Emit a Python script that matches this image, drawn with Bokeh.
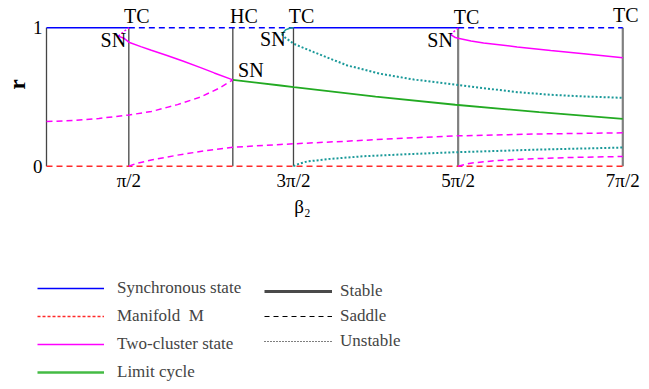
import numpy as np
from bokeh.plotting import figure
from bokeh.layouts import column
from bokeh.models import (ColumnDataSource, FixedTicker, Legend, LegendItem, Range1d)
from bokeh.core.properties import value
from bokeh.embed import file_html
from bokeh.resources import INLINE

PI = np.pi
NAN = float("nan")

# ---------------- data ----------------
beta_HC = 3.555
x_ticks = [PI / 2, 3 * PI / 2, 5 * PI / 2, 7 * PI / 2]
x_tick_labels = ["π/2", "3π/2", "5π/2", "7π/2"]
y_ticks = [0, 1]
y_tick_labels = ["0", "1"]

# bifurcation lines
bif_dark_beta = [0, PI / 2, beta_HC, 3 * PI / 2]
bif_light_beta = [5 * PI / 2, 7 * PI / 2]

# synchronous state r = 1
sync_stable_beta = [[0, PI / 2], [3 * PI / 2, 5 * PI / 2]]
sync_stable_r = [[1, 1], [1, 1]]
sync_saddle_beta = [[PI / 2, 3 * PI / 2], [5 * PI / 2, 7 * PI / 2]]
sync_saddle_r = [[1, 1], [1, 1]]

# manifold M, r = 0
manifold_beta = [0, 7 * PI / 2]
manifold_r = [0, 0]

# two-cluster state
twoc_stable_beta = [[1.37, 1.475, PI / 2, 1.8, 2.0, 2.3, 2.6, 2.94, 3.2, beta_HC],
                    [7.71, 7.80, 5 * PI / 2, 8.1, 8.34, 8.98, 9.62, 10.25, 7 * PI / 2]]
twoc_stable_r = [[0.94, 0.925, 0.896, 0.864, 0.838, 0.800, 0.760, 0.712, 0.674, 0.624],
                 [0.95, 0.93, 0.925, 0.905, 0.890, 0.862, 0.836, 0.812, 0.783]]
twoc_saddle_beta = [[0, 0.5, 1.0, PI / 2, 2.0, 2.3, 2.5, 2.94, 3.3, beta_HC],
                    [PI / 2, 1.7, 2.0, 2.5, 3.0, beta_HC, 4.465, 4.72, 5.74, 6.69, 7.80, 9.4, 7 * PI / 2],
                    [5 * PI / 2, 8.09, 8.5, 9.04, 10.0, 7 * PI / 2]]
twoc_saddle_r = [[0.323, 0.330, 0.345, 0.370, 0.395, 0.425, 0.445, 0.50, 0.565, 0.624],
                 [0, 0.018, 0.045, 0.08, 0.11, 0.137, 0.157, 0.162, 0.181, 0.200, 0.219, 0.233, 0.241],
                 [0, 0.022, 0.038, 0.051, 0.063, 0.070]]
twoc_unstable_beta = [[1.37, 1.47, PI / 2], [7.71, 7.78, 5 * PI / 2]]
twoc_unstable_r = [[0.94, 0.972, 1.0], [0.95, 0.975, 1.0]]

# limit cycle
lc_beta = [beta_HC, 4.465, 4.72, 6.28, 7.80, 9.4, 7 * PI / 2]
lc_r = [0.624, 0.583, 0.571, 0.503, 0.444, 0.39, 0.342]

# other branches (teal)
teal_solid_beta = [4.49, 4.56, 4.64, 3 * PI / 2]
teal_solid_r = [0.955, 0.985, 0.997, 1.0]
teal_dot_beta = [[4.49, 4.55, 4.72, 5.10, 5.74, 6.37, 7.01, 7.80, 8.34, 8.98, 9.62, 10.25, 7 * PI / 2],
                 [3 * PI / 2, 4.8, 4.97, 5.42, 6.05, 7.01, 7.80, 9.4, 7 * PI / 2]]
teal_dot_r = [[0.955, 0.93, 0.884, 0.824, 0.728, 0.668, 0.626, 0.590, 0.564, 0.535, 0.516, 0.504, 0.494],
              [0, 0.015, 0.034, 0.053, 0.072, 0.089, 0.101, 0.12, 0.135]]

# bifurcation point labels
bif_text = ["TC", "TC", "TC", "TC", "HC", "SN", "SN", "SN", "SN"]
bif_beta = [PI / 2, 3 * PI / 2, 5 * PI / 2, 7 * PI / 2, beta_HC, 1.37, beta_HC, 4.49, 7.71]
bif_r = [1, 1, 1, 1, 1, 0.94, 0.624, 0.955, 0.95]

x_title = "β₂"
y_title = "r"
legend_left = ["Synchronous state", "Manifold  M", "Two-cluster state", "Limit cycle"]
legend_right = ["Stable", "Saddle", "Unstable"]

# ---------------- styles ----------------
FONT = "Liberation Serif"
BLUE = "#0000ff"
RED = "#ff2a2a"
MAG = "#ff00ff"
GREEN = "#22aa22"
TEAL = "#1a9999"
DASH = "6 4"
DOT = "2 2"
PX = 52.412          # pixels per radian
W = 649
H1, H2 = 193, 196

p = figure(width=W, height=H1, output_backend="svg", toolbar_location=None,
           x_range=Range1d(-2 / PX, (W - 46) / PX), y_range=Range1d(-0.0166, 1.1973),
           min_border_left=44, min_border_right=0, min_border_top=0,
           min_border_bottom=25)
p.frame_align = False
p.outline_line_color = None
p.xgrid.visible = False
p.ygrid.visible = False

for ax in (p.xaxis, p.yaxis):
    ax.axis_line_color = None
    ax.major_tick_line_color = None
    ax.minor_tick_line_color = None
    ax.major_tick_in = 0
    ax.major_tick_out = 0
    ax.major_label_text_font = FONT
    ax.major_label_text_font_size = "19px"
    ax.major_label_text_color = "black"
p.xaxis.ticker = FixedTicker(ticks=x_ticks)
p.xaxis.major_label_overrides = dict(zip(x_ticks, x_tick_labels))
p.xaxis.major_label_standoff = 1
p.yaxis.ticker = FixedTicker(ticks=y_ticks)
p.yaxis.major_label_overrides = dict(zip(y_ticks, y_tick_labels))
p.yaxis.major_label_standoff = 2
p.yaxis.axis_label = y_title
p.yaxis.axis_label_text_font = FONT
p.yaxis.axis_label_text_font_size = "23px"
p.yaxis.axis_label_text_font_style = "bold"
p.yaxis.axis_label_text_color = "black"
p.yaxis.axis_label_standoff = 0

# bifurcation vertical lines
p.segment(x0=bif_dark_beta, y0=[0] * len(bif_dark_beta), x1=bif_dark_beta,
          y1=[1] * len(bif_dark_beta), line_color="#454545", line_width=1.3)
p.segment(x0=bif_light_beta, y0=[0] * len(bif_light_beta), x1=bif_light_beta,
          y1=[1] * len(bif_light_beta), line_color="#808080", line_width=2.2)

p.line(manifold_beta, manifold_r, line_color=RED, line_width=1.5, line_dash=DASH)
p.multi_line(sync_stable_beta, sync_stable_r, line_color=BLUE, line_width=1.5)
p.multi_line(sync_saddle_beta, sync_saddle_r, line_color=BLUE, line_width=1.5, line_dash=DASH)

p.multi_line(twoc_stable_beta, twoc_stable_r, line_color=MAG, line_width=1.5)
p.multi_line(twoc_saddle_beta, twoc_saddle_r, line_color=MAG, line_width=1.5, line_dash=DASH)
p.multi_line(twoc_unstable_beta, twoc_unstable_r, line_color=MAG, line_width=1.5, line_dash=DOT)

p.line(lc_beta, lc_r, line_color=GREEN, line_width=1.8)

p.line(teal_solid_beta, teal_solid_r, line_color=TEAL, line_width=1.5)
p.multi_line(teal_dot_beta, teal_dot_r, line_color=TEAL, line_width=2, line_dash=DOT)

# labels at bifurcation points
lab_src = ColumnDataSource(dict(x=bif_beta, y=bif_r, text=bif_text,
                                dx=[8, 8, 8.5, 3, 11, -5, 18, -9, -10.5],
                                dy=[-12, -12, -11, -13, -12, 4, -10, 5, 5]))
p.text(x="x", y="y", text="text", x_offset="dx", y_offset="dy", source=lab_src,
       text_font=value(FONT), text_font_size="20px", text_align="center",
       text_baseline="middle", text_color="black")

# ---------------- lower panel: x title and legends ----------------
q = figure(width=W, height=H2, output_backend="svg", toolbar_location=None,
           x_range=Range1d(-46 / PX, (W - 46) / PX), y_range=Range1d(0, H2),
           x_axis_location=None, y_axis_location=None,
           min_border_left=0, min_border_right=0, min_border_top=0,
           min_border_bottom=0)
q.frame_align = False
q.outline_line_color = None
q.xgrid.visible = False
q.ygrid.visible = False

q.text(x=[3 * PI / 2], y=[H2 - 13], text=[x_title], x_offset=9,
       text_font=value(FONT), text_font_size="19px", text_align="center",
       text_baseline="middle", text_color="black")

# legend keys (style samples only, nothing plotted)
k_sync = q.line(x=[NAN], y=[NAN], line_color=BLUE, line_width=1.5)
k_man = q.line(x=[NAN], y=[NAN], line_color=RED, line_width=1.3, line_dash="3 2")
k_twoc = q.line(x=[NAN], y=[NAN], line_color=MAG, line_width=1.5)
k_lc = q.line(x=[NAN], y=[NAN], line_color="#44bb44", line_width=2.6)
k_stable = q.line(x=[NAN], y=[NAN], line_color="#4a4a4a", line_width=3)
k_saddle = q.line(x=[NAN], y=[NAN], line_color="black", line_width=1.2, line_dash="5 4")
k_unst = q.line(x=[NAN], y=[NAN], line_color="black", line_width=1.2, line_dash="1 2")

common = dict(orientation="vertical", glyph_height=20, label_height=20, padding=0,
              margin=0, border_line_color=None, background_fill_alpha=0,
              label_text_font=FONT, label_text_font_size="17px")
leg1 = Legend(items=[LegendItem(label=t, renderers=[r]) for t, r in
                     zip(legend_left, [k_sync, k_man, k_twoc, k_lc])],
              location=(37, 7), glyph_width=67, label_standoff=13, spacing=8,
              **common)
leg2 = Legend(items=[LegendItem(label=t, renderers=[r]) for t, r in
                     zip(legend_right, [k_stable, k_saddle, k_unst])],
              location=(264, 38), glyph_width=68, label_standoff=8, spacing=5,
              **common)
q.add_layout(leg1)
q.add_layout(leg2)

layout = column(p, q, spacing=0)
open("out.html", "w").write(file_html(layout, INLINE))
